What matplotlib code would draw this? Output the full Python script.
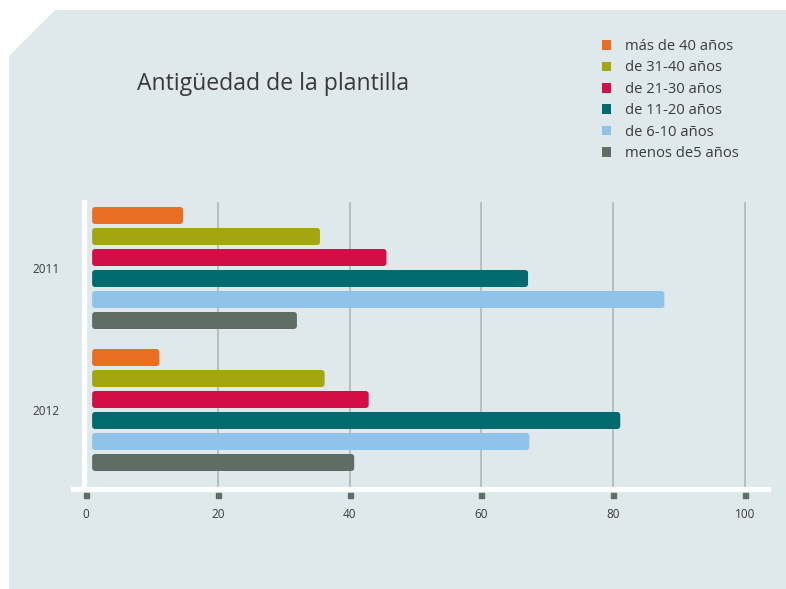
import matplotlib
matplotlib.use("Agg")
import matplotlib.pyplot as plt
from matplotlib.patches import Polygon, FancyBboxPatch, Patch
from matplotlib.transforms import blended_transform_factory

plt.rcParams['font.family'] = ['Open Sans', 'DejaVu Sans']

# ---- data ----
years = ["2011", "2012"]
categories = ["más de 40 años", "de 31-40 años", "de 21-30 años",
              "de 11-20 años", "de 6-10 años", "menos de5 años"]
values_2011 = [14.7, 35.5, 45.6, 67.1, 87.8, 32.0]
values_2012 = [11.1, 36.2, 42.9, 81.1, 67.3, 40.7]
colors = ["#ea6d22", "#a3a610", "#d30e46", "#006a6e", "#8fc3e9", "#5e6e64"]
xticks = [0, 20, 40, 60, 80, 100]
title = "Antigüedad de la plantilla"

W, H = 786, 589
fig = plt.figure(figsize=(W / 100, H / 100), dpi=100)
fig.patch.set_facecolor("white")

def fx(px):
    return px / W

def fy(py):
    return 1 - py / H

# background panel with cut corner
bg = "#dfe9eb"
panel = Polygon([(fx(9), fy(56)), (fx(55), fy(10)), (fx(786), fy(10)),
                 (fx(786), fy(589)), (fx(9), fy(589))],
                closed=True, transform=fig.transFigure, facecolor=bg,
                edgecolor="none", zorder=-10)
fig.patches.append(panel)

# axes geometry (pixels)
ax_left, ax_right, ax_top, ax_bot = 73, 768, 202, 489
ax = fig.add_axes([fx(ax_left), fy(ax_bot), fx(ax_right - ax_left),
                   (ax_bot - ax_top) / H])
ax.set_zorder(5)
ax.set_facecolor("none")

px_per_x = 6.585
x0_px = 86.2
ax.set_xlim((ax_left - x0_px) / px_per_x, (ax_right - x0_px) / px_per_x)

px_per_y = 21.0
ymax = (ax_bot - ax_top) / px_per_y
ax.set_ylim(ymax, 0)

bar_h = 17 / px_per_y
first_center = (215.5 - ax_top) / px_per_y
group_step = 142 / px_per_y
bar_start = 0.9

text_color = "#3a3a3a"
aspect = px_per_x / px_per_y
rs = 3.0 / px_per_x

group_centers = []
for g, vals in enumerate([values_2011, values_2012]):
    base = first_center + g * group_step
    centers = [base + i for i in range(len(vals))]
    group_centers.append(sum(centers) / len(centers))
    bars = ax.barh(centers, [v - bar_start for v in vals], left=bar_start,
                   height=bar_h, color=colors)
    for b in bars:
        x, y = b.get_x(), b.get_y()
        w, h = b.get_width(), b.get_height()
        p = FancyBboxPatch((x, y), w, h,
                           boxstyle=f"round,pad=0,rounding_size={rs}",
                           mutation_aspect=aspect,
                           facecolor=b.get_facecolor(), edgecolor="none",
                           zorder=3)
        ax.add_patch(p)
        b.set_visible(False)

# grid
for t in xticks[1:]:
    ax.axvline(t, color="#a9b5b1", lw=1.1, zorder=1)

# spines
for s in ["top", "right"]:
    ax.spines[s].set_visible(False)
ax.spines["bottom"].set_color("white")
ax.spines["bottom"].set_linewidth(3.7)
ax.spines["bottom"].set_zorder(4)
ax.spines["left"].set_color("white")
ax.spines["left"].set_linewidth(3.7)
ax.spines["left"].set_position(("data", (83.5 - x0_px) / px_per_x))
ax.spines["left"].set_zorder(4)

# x ticks
ax.set_xticks(xticks)
ax.set_xticklabels([str(t) for t in xticks], fontsize=8.5, color=text_color)
ax.tick_params(axis="x", length=0, pad=14)
trans = blended_transform_factory(ax.transData, ax.transAxes)
ax.plot(xticks, [-(494.5 - ax_bot) / (ax_bot - ax_top)] * len(xticks), "s",
        color="#5e6e64", markersize=3.6, transform=trans, clip_on=False,
        zorder=5)

# y ticks
ax.set_yticks(group_centers)
ax.set_yticklabels(years, fontsize=8.5, color=text_color)
ax.tick_params(axis="y", length=0, pad=17)

# title
fig.text(fx(137), fy(84), title, fontsize=16.6, color=text_color,
         ha="left", va="center")

# legend
handles = [Patch(facecolor=c, edgecolor="none") for c in colors]
leg = fig.legend(handles, categories, loc="upper left",
                 bbox_to_anchor=(fx(602), fy(39)), frameon=False,
                 fontsize=10.6, handlelength=0.62, handleheight=0.62,
                 handletextpad=0.95, labelspacing=0.44, borderpad=0,
                 borderaxespad=0)
for t in leg.get_texts():
    t.set_color(text_color)

fig.savefig("out.png", dpi=100, facecolor=fig.get_facecolor())
